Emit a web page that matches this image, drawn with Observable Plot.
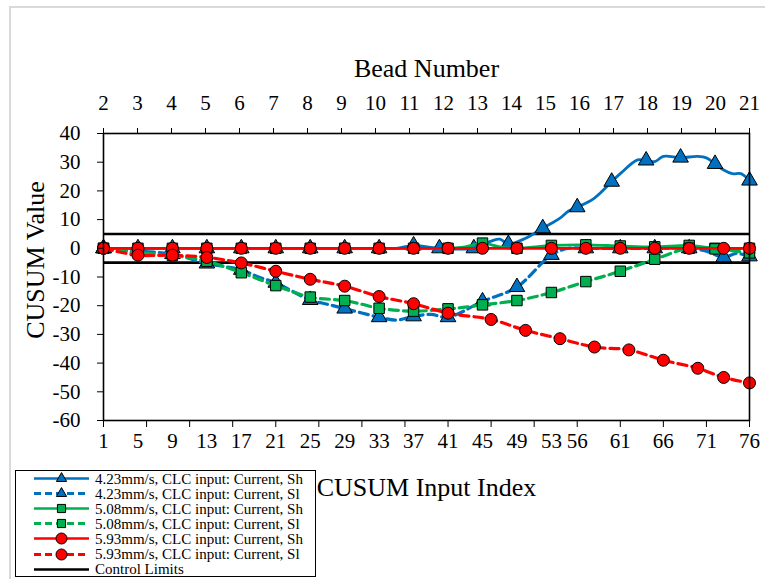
<!DOCTYPE html>
<html><head><meta charset="utf-8">
<script src="https://cdn.jsdelivr.net/npm/d3@7"></script>
<script src="https://cdn.jsdelivr.net/npm/@observablehq/plot@0.6"></script>
<style>
html,body{margin:0;padding:0;background:#fff;}
#wrap{position:relative;width:765px;height:579px;overflow:hidden;font-family:"Liberation Serif","Times New Roman",serif;}
#border{position:absolute;left:9px;top:6px;width:800px;height:620px;border-left:2px solid #d9d9d9;border-top:2px solid #d9d9d9;}
#chart{position:absolute;left:0;top:0;}
#legend{position:absolute;left:15px;top:470px;width:299px;height:105px;border:1.5px solid #000;background:#fff;}
.row{height:15.1px;display:flex;align-items:center;font-family:"Liberation Serif",serif;font-size:15px;line-height:14px;white-space:nowrap;}
.row svg{flex:none;}
</style></head>
<body>
<div id="wrap"><div id="border"></div><div id="chart"></div><div id="legend"></div></div>
<script>
// ---- data ----
const indexRange = [1, 76];
const valueRange = [-60, 40];
const valueTicks = [-60, -50, -40, -30, -20, -10, 0, 10, 20, 30, 40];
const beadNumbers = [2,3,4,5,6,7,8,9,10,11,12,13,14,15,16,17,18,19,20,21];
const indexTickMarks = [1,6,11,16,21,26,31,36,41,46,51,56,61,66,71,76];
const indexTickLabels = [1,5,9,13,17,21,25,29,33,37,41,45,49,53,56,61,66,71,76];
const controlLimits = [5, -5];

const legendLabels = [
  "4.23mm/s, CLC input: Current, Sh",
  "4.23mm/s, CLC input: Current, Sl",
  "5.08mm/s, CLC input: Current, Sh",
  "5.08mm/s, CLC input: Current, Sl",
  "5.93mm/s, CLC input: Current, Sh",
  "5.93mm/s, CLC input: Current, Sl",
  "Control Limits"
];

const s423ShIdx = [1,5,9,13,17,21,25,29,33,35,37,39,40,44,46,47,48,50,52,54,55,56,58,60,61,63,64,65,66,68,70,71,72,73,74,75,76];
const s423ShVal = [0,0,0,0,0,0,0,0,0,0,1,0.3,0,0,2.5,3.2,1.5,3.5,7,10.5,13,14.3,17.5,23.2,26,30.8,30.6,30.2,32,31.6,32,31.5,29.4,27.3,26,26,23.6];
const s423ShMarkers = [1,5,9,13,17,21,25,29,33,37,40,44,48,52,56,60,64,68,72,76];

const s423SlIdx = [1,5,9,13,17,19,21,25,27,29,33,35,37,39,41,45,49,53,55,57,61,65,69,71,73,74.5,76];
const s423SlVal = [0,-1,-2,-5.3,-7.5,-10,-12,-18,-19.5,-21,-24,-25,-23.7,-23,-24,-18.5,-13.5,-2.3,0,0,0,0,0,-1,-3.1,-1.8,-2.8];
const s423SlMarkers = [1,5,9,13,17,21,25,29,33,37,41,45,49,53,57,61,65,69,73,76];

const s508ShIdx = [1,5,9,13,17,21,25,29,33,37,41,43,45,47,49,53,57,61,65,69,72,76];
const s508ShVal = [0,0,0,0,0,0,0,0,0,0,0,0.5,1.8,0.5,0,1,1.2,0.8,0.5,1,0,0];
const s508ShMarkers = [1,5,9,13,17,21,25,29,33,37,41,45,49,53,57,61,65,69,72,76];

const s508SlIdx = [1,5,9,13,17,21,25,29,31,33,37,41,43,45,49,53,57,61,65,69,72,76];
const s508SlVal = [0,-1.5,-2.5,-4.5,-8.5,-13,-17,-18.2,-19.5,-20.9,-21.9,-21.1,-20.5,-19.7,-18.2,-15.4,-11.6,-8,-3.8,0,-0.2,-1.6];
const s508SlMarkers = [1,5,9,13,17,21,25,29,33,37,41,45,49,53,57,61,65,69,72,76];

const s593ShIdx = [1,5,9,13,17,21,25,29,33,37,41,45,49,53,57,61,65,69,73,76];
const s593ShVal = [0,0,0,0,0,0,0,0,0,0,0,0,0,0,0,0,0,0,0,0];
const s593ShMarkers = [1,5,9,13,17,21,25,29,33,37,41,45,49,53,57,61,65,69,73,76];

const s593SlIdx = [1,5,9,13,17,21,25,29,33,37,41,46,50,54,58,62,66,70,73,76];
const s593SlVal = [0,-2.4,-2.4,-3.2,-5.1,-8,-10.8,-13.2,-16.8,-19.3,-22.6,-24.8,-28.6,-31.5,-34.4,-35.4,-39,-41.8,-45,-46.9];
const s593SlMarkers = [1,5,9,13,17,21,25,29,33,37,41,46,50,54,58,62,66,70,73,76];

// ---- styles ----
const serif = "'Liberation Serif', 'Times New Roman', serif";
const blue = "#0070C0", green = "#00B050", red = "#FF0000";
const series = [
  {name: legendLabels[0], idx: s423ShIdx, val: s423ShVal, markers: s423ShMarkers, color: blue, dashed: false, symbol: "triangle"},
  {name: legendLabels[1], idx: s423SlIdx, val: s423SlVal, markers: s423SlMarkers, color: blue, dashed: true, symbol: "triangle"},
  {name: legendLabels[2], idx: s508ShIdx, val: s508ShVal, markers: s508ShMarkers, color: green, dashed: false, symbol: "square"},
  {name: legendLabels[3], idx: s508SlIdx, val: s508SlVal, markers: s508SlMarkers, color: green, dashed: true, symbol: "square"},
  {name: legendLabels[4], idx: s593ShIdx, val: s593ShVal, markers: s593ShMarkers, color: red, dashed: false, symbol: "circle"},
  {name: legendLabels[5], idx: s593SlIdx, val: s593SlVal, markers: s593SlMarkers, color: red, dashed: true, symbol: "circle"}
];
const symR = {triangle: 5.8, square: 5.9, circle: 6};

const beadTicks = beadNumbers.map((b, i) => indexRange[0] + i * (indexRange[1] - indexRange[0]) / (beadNumbers.length - 1));

const marks = [
  Plot.ruleY(controlLimits, {stroke: "black", strokeWidth: 2.6})
];
for (const s of series) {
  const pts = s.idx.map((x, i) => ({x, y: s.val[i]}));
  const mk = pts.filter(p => s.markers.includes(p.x));
  marks.push(Plot.line(pts, {x: "x", y: "y", stroke: s.color, strokeWidth: s.dashed ? 3.2 : 2.8,
    strokeDasharray: s.dashed ? "9,5" : null, curve: "catmull-rom"}));
  marks.push(Plot.dot(mk, {x: "x", y: "y", symbol: s.symbol, r: symR[s.symbol], fill: s.color, stroke: "black", strokeWidth: 1}));
}
marks.push(
  Plot.frame({stroke: "black", strokeWidth: 1.6}),
  Plot.axisY(valueTicks, {anchor: "left", tickSize: 6, tickPadding: 17, tickFormat: d => String(d), fontSize: 21, fontFamily: serif, label: null}),
  Plot.axisX(indexTickMarks, {anchor: "bottom", tickSize: 7, tickFormat: () => "", label: null}),
  Plot.axisX(indexTickLabels, {anchor: "bottom", tickSize: 0, tickPadding: 13, tickFormat: d => String(d), fontSize: 21, fontFamily: serif, label: null}),
  Plot.axisX(beadTicks, {anchor: "top", tickSize: 6, tickPadding: 18, tickFormat: d => String(beadNumbers[beadTicks.indexOf(d)]), fontSize: 21, fontFamily: serif, label: null}),
  Plot.text(["Bead Number"], {text: d => d, frameAnchor: "top", lineAnchor: "middle", textAnchor: "middle", dy: -65, fontSize: 26, fontFamily: serif}),
  Plot.text(["CUSUM Input Index"], {text: d => d, frameAnchor: "bottom", lineAnchor: "middle", textAnchor: "middle", dy: 67, fontSize: 26, fontFamily: serif}),
  Plot.text(["CUSUM Value"], {text: d => d, frameAnchor: "left", lineAnchor: "middle", textAnchor: "middle", dx: -68, dy: -17, rotate: -90, fontSize: 26, fontFamily: serif})
);

const chart = Plot.plot({
  width: 765, height: 579,
  marginLeft: 103, marginRight: 16, marginTop: 133, marginBottom: 159,
  x: {domain: indexRange, axis: null},
  y: {domain: valueRange, axis: null},
  style: {fontFamily: serif, fontSize: "21px", color: "black", background: "transparent", overflow: "visible"},
  marks
});
document.getElementById("chart").appendChild(chart);

// ---- legend ----
const legend = d3.select("#legend");
const legendItems = series.map(s => ({name: s.name, color: s.color, dashed: s.dashed, symbol: s.symbol}))
  .concat([{name: legendLabels[6], color: "black", dashed: false, symbol: null}]);
const symType = {triangle: d3.symbolTriangle2, square: d3.symbolSquare2, circle: d3.symbolCircle};
const symSize = {triangle: 75, square: 85, circle: 95};
for (const it of legendItems) {
  const row = legend.append("div").attr("class", "row");
  const svg = row.append("svg").attr("width", 79).attr("height", 15);
  svg.append("line").attr("x1", 18).attr("x2", 73).attr("y1", 7.5).attr("y2", 7.5)
    .attr("stroke", it.color).attr("stroke-width", it.dashed ? 3 : 2.5)
    .attr("stroke-dasharray", it.dashed ? "7,4" : null);
  if (it.symbol) {
    svg.append("path").attr("transform", "translate(45.5,7.5)")
      .attr("d", d3.symbol(symType[it.symbol], symSize[it.symbol])())
      .attr("fill", it.color).attr("stroke", "black").attr("stroke-width", 1);
  }
  row.append("span").text(it.name);
}
</script>
</body></html>
